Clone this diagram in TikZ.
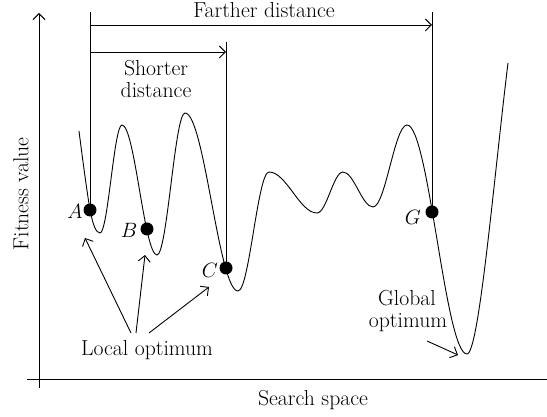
\documentclass[tikz,border=0pt]{standalone}
\usetikzlibrary{arrows.meta}
\begin{document}
\begin{tikzpicture}[x=1pt,y=1pt,
  every node/.style={font=\fontsize{21.7}{24}\selectfont},
  curve/.style={line width=0.9pt},
  guide/.style={line width=0.9pt},
  tip/.style={-{Straight Barb[length=6pt,width=12pt]}},
  dot/.style={circle,fill=black,inner sep=0pt,minimum size=13pt},
  lbl/.style={inner sep=0pt,anchor=base},
]
\useasboundingbox (0,0) rectangle (547,417);
% axes
\coordinate (yb) at (39,29);
\coordinate (yt) at (39,404);
\coordinate (xl) at (27,37);
\coordinate (xr) at (547,37);
\draw[line width=1pt,tip] (yb) -- (yt);
\draw[line width=1pt] (xl) -- (xr);
\node[rotate=90] (fv) at (21,223) {Fitness value};
\node[lbl] (ss) at (313,11) {Search space};
% landscape
\draw[curve] (79,286) .. controls (82,262) and (87,225) .. (90,207)
  .. controls (93,192) and (96,184) .. (100,184)
  .. controls (108,184) and (114,292) .. (122,292)
  .. controls (134.7,292) and (144.3,162) .. (157,162)
  .. controls (167.2,162) and (174.8,304) .. (185,304)
  .. controls (204.3,304) and (218.7,126) .. (238,126)
  .. controls (249.3,126) and (257.7,245) .. (269,245)
  .. controls (286.5,245) and (299.5,204) .. (317,204)
  .. controls (326.5,204) and (333.5,245) .. (343,245)
  .. controls (353.9,245) and (362.1,210) .. (373,210)
  .. controls (385.4,210) and (394.6,292) .. (407,292)
  .. controls (428.8,292) and (445.2,63) .. (467,63)
  .. controls (479,63) and (494,240) .. (508,354);
% points
\node[dot] (dA) at (90,207) {};
\node[dot] (dB) at (147,188) {};
\node[dot] (dC) at (226,149) {};
\node[dot] (dG) at (432,205) {};
\node[lbl] (lA) at (75,198) {$A$};
\node[lbl] (lB) at (129,179) {$B$};
\node[lbl] (lC) at (210,139) {$C$};
\node[lbl] (lG) at (413,192) {$G$};
% distance guides
\coordinate (tA) at (90,405);
\coordinate (tG) at (432,405);
\coordinate (tC) at (226,375);
\draw[guide] (tA) -- (dA.center);
\draw[guide] (tG) -- (dG.center);
\draw[guide] (tC) -- (dC.center);
\coordinate (fA) at (90,392);
\coordinate (fG) at (432,392);
\coordinate (sA) at (90,365);
\coordinate (sC) at (226,365);
\draw[guide,tip] (fA) -- (fG);
\draw[guide,tip] (sA) -- (sC);
\node[lbl] (far) at (264,399) {Farther distance};
\node[lbl] (sh1) at (156,341) {Shorter};
\node[lbl] (sh2) at (156,319) {distance};
% local optimum
\node[lbl] (lo) at (147,61) {Local optimum};
\coordinate (l1) at (131,84);
\coordinate (l2) at (136,84);
\coordinate (l3) at (149,84);
\coordinate (a1) at (85,179);
\coordinate (a2) at (145,162);
\coordinate (a3) at (209,130);
\draw[guide,tip] (l1) -- (a1);
\draw[guide,tip] (l2) -- (a2);
\draw[guide,tip] (l3) -- (a3);
% global optimum
\node[lbl] (go1) at (407,111) {Global};
\node[lbl] (go2) at (408,89) {optimum};
\coordinate (g1) at (427,76);
\coordinate (g2) at (458,62);
\draw[guide,tip] (g1) -- (g2);
\end{tikzpicture}
\end{document}
